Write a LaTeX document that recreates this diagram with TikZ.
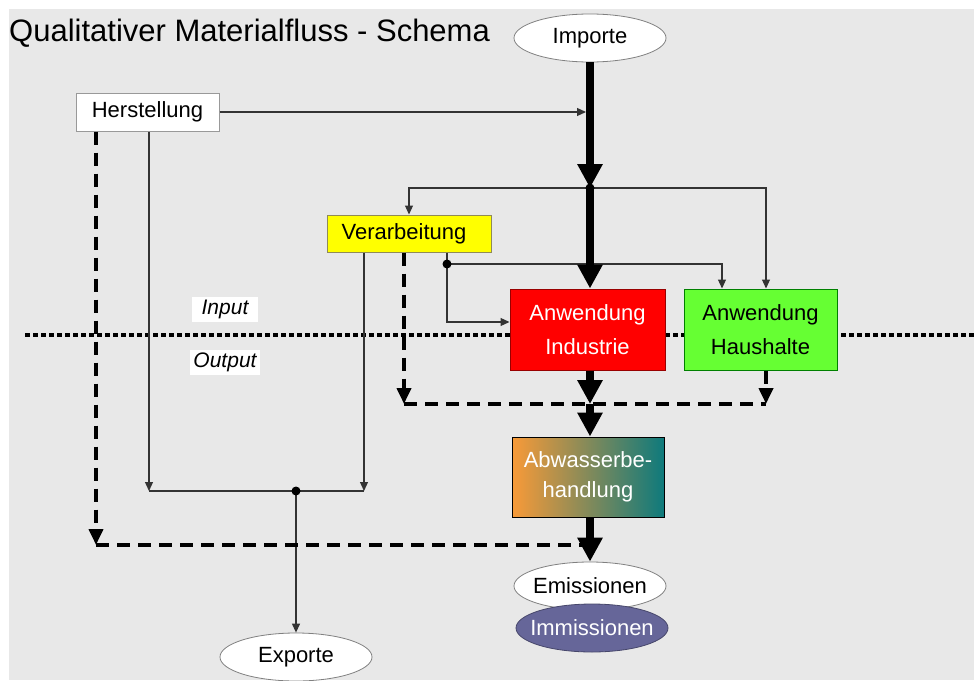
\documentclass[tikz,border=0pt]{standalone}
\usepackage{fontspec}
\setmainfont{Liberation Sans}
\usetikzlibrary{arrows.meta,shapes.geometric,calc}
\definecolor{bggray}{HTML}{E8E8E8}
\definecolor{indred}{HTML}{FF0000}
\definecolor{haugreen}{HTML}{66FF33}
\definecolor{veryellow}{HTML}{FFFF00}
\definecolor{immblue}{HTML}{666699}
\definecolor{abworange}{HTML}{F89A38}
\definecolor{abwteal}{HTML}{0E7A7C}
\definecolor{lnclr}{HTML}{333333}
\begin{document}
\begin{tikzpicture}[x=1pt,y=-1pt,
  box/.style={draw=#1, line width=1pt, inner sep=0pt, align=center, font=\fontsize{22}{34}\selectfont},
  ell/.style={ellipse, draw=#1, line width=0.8pt, inner xsep=-18pt, inner ysep=0pt, minimum width=152, minimum height=48, font=\fontsize{22}{25}\selectfont},
  thinln/.style={line width=1.2pt, draw=lnclr},
  thinar/.style={thinln, -{Triangle[length=9pt,width=8pt]}},
  thickar/.style={line width=8pt, draw=black, -{Triangle[length=24pt,width=24pt]}},
  dashln/.style={line width=3.8pt, draw=black, dash pattern=on 13pt off 8pt},
  dashar/.style={dashln, -{Triangle[length=16pt,width=14pt]}},
  dotln/.style={line width=4.5pt, draw=black, dash pattern=on 5pt off 3pt},
  iolabel/.style={fill=white, inner sep=0pt, minimum height=25, font=\fontsize{21}{24}\selectfont\itshape},
  jdot/.style={fill=black}
]
\useasboundingbox (0,0) rectangle (974,680);
\fill[white] (0,0) rectangle (974,680);
\fill[bggray] (9,9) rectangle (974,680);

% Input/Output divider
\draw[dotln] (25,335) -- (974,335);

% title
\node[anchor=west, inner sep=0pt, font=\fontsize{31}{36}\selectfont] (title) at (9,33) {Qualitativer Materialfluss - Schema};

% nodes
\node[ell=gray, fill=white] (imp) at (590,38) {Importe};
\node[box=gray!80, fill=white, minimum width=143, minimum height=38] (her) at (147.5,112) {Herstellung};
\node[box=gray!60!olive, fill=veryellow, minimum width=164, minimum height=37] (ver) at (409,233.5) {Verarbeitung\hspace*{10pt}};
\node[box=red!60!black, fill=indred, text=white, minimum width=155, minimum height=81] (ind) at (587.5,329.5) {Anwendung\\Industrie};
\node[box=green!50!black, fill=haugreen, minimum width=153, minimum height=81] (hau) at (760.5,329.5) {Anwendung\\Haushalte};
\node[box=black, left color=abworange, right color=abwteal, text=white, minimum width=152, minimum height=80, font=\fontsize{22}{30}\selectfont] (abw) at (588,477) {Abwasserbe-\\handlung};
\node[ell=gray, fill=white] (emi) at (590,586) {Emissionen};
\node[ell=immblue!70!black, fill=immblue, text=white] (imm) at (592,628) {Immissionen};
\node[ell=gray, fill=white] (exp) at (296,657) {Exporte};

\node[iolabel, minimum width=66] (inp) at (225,309.5) {Input};
\node[iolabel, minimum width=70] (outp) at (225,362.5) {Output};

% junction coordinates
\coordinate (j1) at (590,188);
\coordinate (j2) at (447,264);
\coordinate (j3) at (296,491);
\coordinate (j4) at (590,404);
\coordinate (j5) at (590,545);
\coordinate (d1) at (404,404);
\coordinate (d2) at (766,404);
\coordinate (d3) at (96,545);
\coordinate (b1) at (149,491);
\coordinate (b2) at (364,491);
\coordinate (h1) at ($(hau.north)+(-38.5,0)$);
\coordinate (h2) at ($(hau.north)+(5.5,0)$);
\coordinate (i1) at ($(ind.west)+(0,-7.5)$);

% thin connectors
\draw[thinar] (her.east) -- ($(her.east -| j1)+(-4,0)$);
\draw[thinar] (j1) -| (ver.north);
\draw[thinar] (j1) -| (h2);
\draw[thinln] (ver.south -| j2) -- (j2);
\draw[thinar] (j2) -| (h1);
\draw[thinar] (j2) |- (i1);
\draw[thinar] (ver.south -| b2) -- (b2);
\draw[thinar] (her.south -| b1) -- (b1);
\draw[thinln] (b1) -- (b2);
\draw[thinar] (j3) -- (exp);

% dashed connectors
\draw[dashar] (ver.south -| d1) -- (d1);
\draw[dashln] (d1) -- (d2);
\draw[dashar] (hau.south -| d2) -- (d2);
\draw[dashar] (her.south -| d3) -- (d3);
\draw[dashln] (d3) -- (j5);

% thick connectors
\draw[thickar] (imp) -- (j1);
\draw[thickar] (j1) -- (j1 |- ind.north);
\draw[thickar] (ind.south -| j4) -- (j4);
\draw[thickar] (j4) -- (j4 |- abw.north);
\draw[thickar] (abw.south -| j5) -- (j5 |- emi.north);

% junction dots
\fill[jdot] (j1) circle[radius=4.5pt];
\fill[jdot] (j2) circle[radius=4.5pt];
\fill[jdot] (j3) circle[radius=4.5pt];
\end{tikzpicture}
\end{document}
